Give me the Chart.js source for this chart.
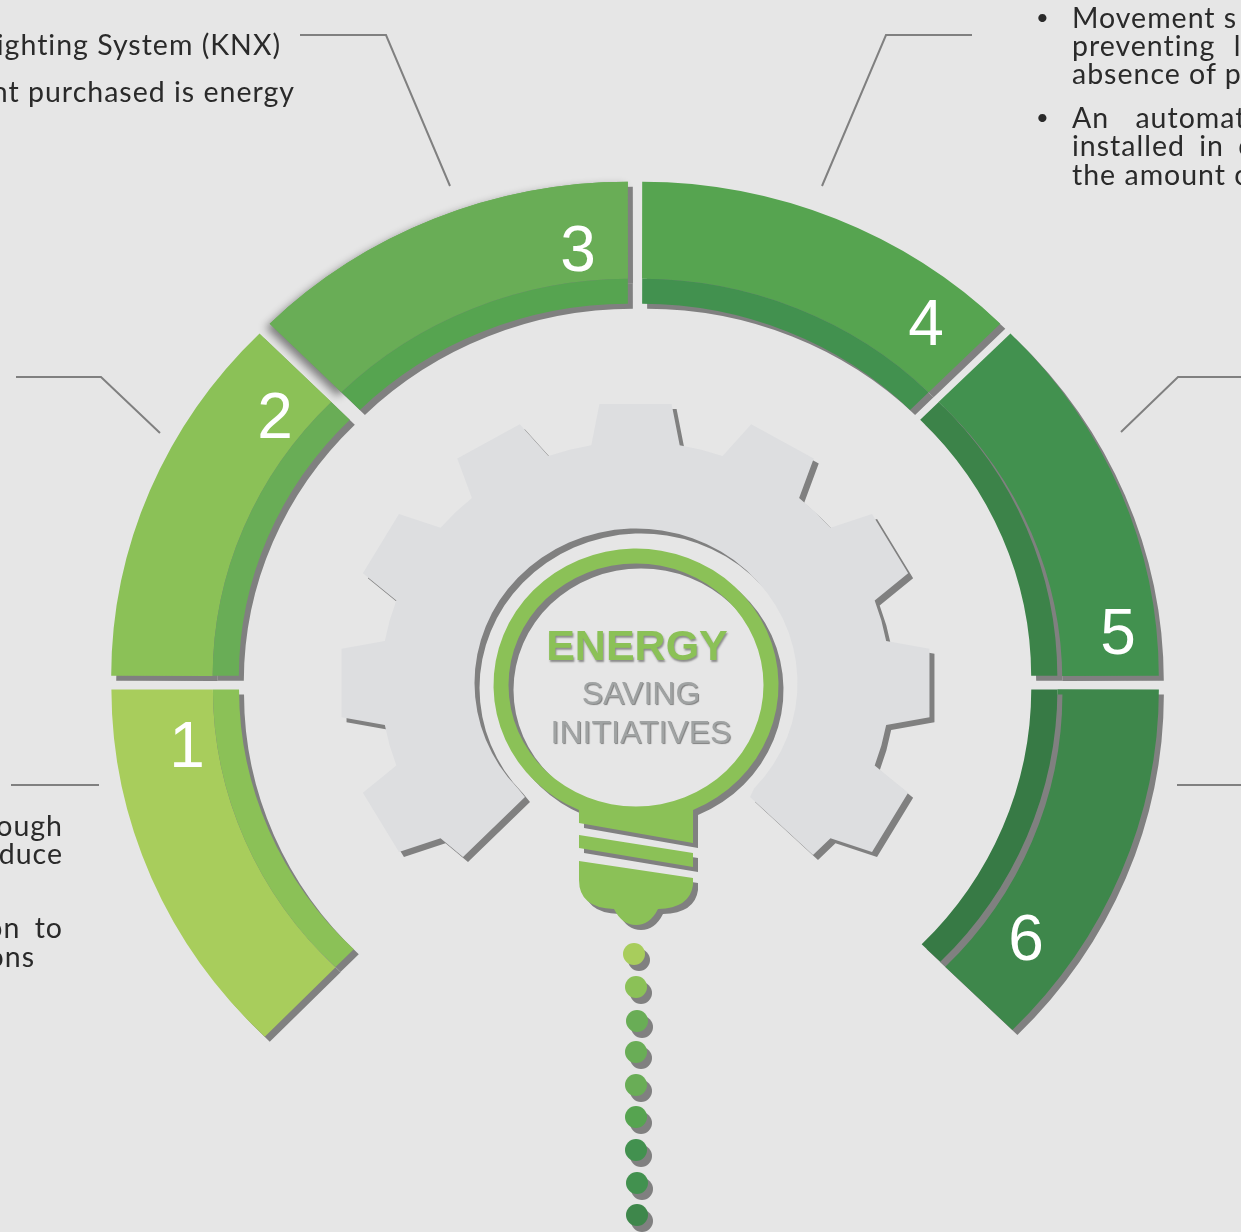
<!DOCTYPE html>
<html>
<head>
<meta charset="utf-8">
<title>Energy saving initiatives</title>
<script src="https://cdn.jsdelivr.net/npm/chart.js@4"></script>
<style>
  html, body { margin: 0; padding: 0; background: #e6e6e6; }
  #page { position: relative; width: 1241px; height: 1232px; overflow: hidden; background: #e6e6e6; }
  canvas { position: absolute; left: 0; top: 0; }
  .note { position: absolute; font: 400 28.5px/36px Lato, "Open Sans", sans-serif; letter-spacing: 1px; font-variant-ligatures: none; color: #2a2a2a; white-space: pre; }
  .r { text-align: right; }
  .dot { font-size: 22px; }
  .num { position: absolute; width: 80px; margin-left: -40px; text-align: center; font: 64px/72px "Liberation Sans", Arial, sans-serif; color: #fff; }
  .mid { position: absolute; left: 537px; width: 200px; text-align: center; font-family: "Liberation Sans", Arial, sans-serif; white-space: nowrap; }
</style>
</head>
<body>
<div id="page">
  <canvas id="gearChart" width="1241" height="1232"></canvas>
  <canvas id="ringChart" width="1241" height="1232"></canvas>

  <div class="note r" style="right:960px; top:26px">ighting System (KNX)</div>
  <div class="note r" style="right:946px; top:73px">nt purchased is energy</div>
  <div class="note r" style="right:1178px; top:807px">ough</div>
  <div class="note r" style="right:1178px; top:835px">duce</div>
  <div class="note r" style="right:1178px; top:909px; word-spacing:6px">on to</div>
  <div class="note r" style="right:1206px; top:938px">ons</div>

  <div class="note dot" style="left:1036px; top:-1px">•</div>
  <div class="note" style="left:1072px; top:-1px">Movement s</div>
  <div class="note" style="left:1072px; top:27px; word-spacing:10px">preventing l</div>
  <div class="note" style="left:1072px; top:55px">absence of p</div>
  <div class="note dot" style="left:1036px; top:99px">•</div>
  <div class="note" style="left:1072px; top:99px; word-spacing:18px">An automat</div>
  <div class="note" style="left:1072px; top:127px; word-spacing:6px">installed in c</div>
  <div class="note" style="left:1072px; top:156px">the amount c</div>

  <div class="num" style="left:187px; top:709px">1</div>
  <div class="num" style="left:275px; top:380px">2</div>
  <div class="num" style="left:578px; top:213px">3</div>
  <div class="num" style="left:926px; top:287px">4</div>
  <div class="num" style="left:1118px; top:596px">5</div>
  <div class="num" style="left:1026px; top:902px">6</div>

  <div class="mid" style="top:620px; font-size:43px; line-height:50px; font-weight:bold; color:#8bc157; text-shadow:1px 2px 2px rgba(0,0,0,.4)">ENERGY</div>
  <div class="mid" style="top:673px; left:541px; font-size:32px; line-height:40px; color:#a0a3a3; text-shadow:1px 1px 1px rgba(0,0,0,.45)">SAVING</div>
  <div class="mid" style="top:712px; left:541px; font-size:32px; line-height:40px; color:#a0a3a3; text-shadow:1px 1px 1px rgba(0,0,0,.45)">INITIATIVES</div>
</div>

<script>
// ring: six steps, outer band and darker inner band
const steps = ['1', '2', '3', '4', '5', '6'];
const stepValues = [45.8, 45, 45, 45, 45, 44.7];
const outerColors = ['#a8cd5c', '#8bc157', '#69ad56', '#56a450', '#42914f', '#3e874b'];
const innerColors = ['#8bc157', '#69ad56', '#56a450', '#42914f', '#3c8349', '#377a45'];

// dotted stem below the bulb
const dotX = [634, 636, 637, 636, 636, 636, 636, 637, 637];
const dotY = [954, 987, 1021, 1052, 1085, 1117, 1150, 1183, 1215];
const dotColors = ['#a8cd5c', '#8bc157', '#69ad56', '#69ad56', '#69ad56', '#56a450', '#42914f', '#42914f', '#3e874b'];

// leader lines
const leaderA = [{x: 300, y: 35}, {x: 386, y: 35}, {x: 450, y: 186}];
const leaderB = [{x: 16, y: 377}, {x: 101, y: 377}, {x: 160, y: 433}];
const leaderC = [{x: 972, y: 35}, {x: 886, y: 35}, {x: 822, y: 186}];
const leaderD = [{x: 1241, y: 377}, {x: 1178, y: 377}, {x: 1121, y: 432}];
const leaderE = [{x: 11, y: 785}, {x: 99, y: 785}];
const leaderF = [{x: 1177, y: 785}, {x: 1241, y: 785}];

const CX = 635, CY = 683, STRETCH = 1.046;
const SHADOW = '#808080';
const GEAR = '#dddee0', BULB = '#8bc157';

function setShadow(ctx, dx, dy) {
  ctx.shadowColor = SHADOW;
  ctx.shadowOffsetX = dx;
  ctx.shadowOffsetY = dy;
  ctx.shadowBlur = 0;
}

function clearShadow(ctx) {
  ctx.shadowColor = 'transparent';
}

// polar point on the gear, angle 0 = top
function polar(r, deg) {
  const a = deg * Math.PI / 180;
  return [635.5 + Math.sin(a) * r * 1.054, CY - Math.cos(a) * r];
}

function drawGear(ctx) {
  const tip = 281, root = 241.5;
  const teeth = [-120, -90, -60, -30, 0, 30, 60, 90, 120];
  ctx.beginPath();
  ctx.moveTo(463, 857);
  teeth.forEach((t, i) => {
    for (const [r, d] of [[root, -10], [tip, -7], [tip, 7], [root, 10]]) {
      const p = polar(r, t + d);
      ctx.lineTo(p[0], p[1]);
    }
    if (i < teeth.length - 1) {
      const m = polar(root, t + 15);
      ctx.lineTo(m[0], m[1]);
    }
  });
  ctx.lineTo(813, 855);
  ctx.lineTo(750, 797);
  // hole of the gear, back over the top
  ctx.ellipse(636, CY, 161.5, 154.5, 0, 0.75, Math.PI - 0.75, true);
  ctx.lineTo(525, 797);
  ctx.closePath();
  ctx.fillStyle = GEAR;
  setShadow(ctx, 5, 5);
  ctx.fill();
  clearShadow(ctx);
}

function drawBulb(ctx) {
  ctx.beginPath();
  // ring with neck
  ctx.ellipse(636, 685, 142.5, 136.5, 0, 1.159, Math.PI - 1.159, true);
  ctx.lineTo(579, 823);
  ctx.lineTo(693, 843);
  ctx.closePath();
  ctx.moveTo(636 + 127.5, 685);
  ctx.ellipse(636, 685, 127.5, 121.5, 0, 0, Math.PI * 2);
  ctx.closePath();
  // thread strip
  ctx.moveTo(579, 835);
  ctx.lineTo(693, 853);
  ctx.lineTo(693, 867);
  ctx.lineTo(579, 848);
  ctx.closePath();
  // cap
  ctx.moveTo(579, 861);
  ctx.lineTo(693, 878);
  ctx.lineTo(693, 885);
  ctx.quadraticCurveTo(690, 908, 658, 909);
  ctx.quadraticCurveTo(650, 925, 636, 925);
  ctx.quadraticCurveTo(622, 925, 614, 909);
  ctx.quadraticCurveTo(579, 908, 579, 880);
  ctx.closePath();
  ctx.fillStyle = BULB;
  setShadow(ctx, 5, 5);
  ctx.fill('evenodd');
  clearShadow(ctx);
}

const artworkPlugin = {
  id: 'artwork',
  beforeDatasetsDraw(chart) {
    drawGear(chart.ctx);
    drawBulb(chart.ctx);
  },
  beforeDatasetDraw(chart, args) {
    if (chart.data.datasets[args.index].label === 'stem') setShadow(chart.ctx, 5, 6);
  },
  afterDatasetDraw(chart) {
    clearShadow(chart.ctx);
  }
};

const stretchPlugin = {
  id: 'stretch',
  beforeDatasetsDraw(chart) {
    const ctx = chart.ctx;
    ctx.save();
    ctx.translate(CX, 0);
    ctx.scale(STRETCH, 1);
    ctx.translate(-CX, 0);
    // soft shadow that only step 3 has
    ctx.shadowColor = 'rgba(0,0,0,.45)';
    ctx.shadowOffsetX = -4;
    ctx.shadowOffsetY = 4;
    ctx.shadowBlur = 8;
    chart.getDatasetMeta(0).data[2].draw(ctx);
    setShadow(ctx, 5, 5);
  },
  afterDatasetsDraw(chart) {
    chart.ctx.restore();
  }
};

function leader(points) {
  return { type: 'scatter', data: points, showLine: true, borderColor: '#808080', borderWidth: 2, pointRadius: 0, fill: false };
}

new Chart(document.getElementById('gearChart'), {
  type: 'scatter',
  data: {
    datasets: [
      leader(leaderA), leader(leaderB), leader(leaderC), leader(leaderD), leader(leaderE), leader(leaderF),
      {
        label: 'stem',
        data: dotX.map((x, i) => ({ x: x, y: dotY[i] })),
        pointRadius: 11,
        pointBorderWidth: 0,
        pointBackgroundColor: dotColors,
        showLine: false
      }
    ]
  },
  options: {
    responsive: false,
    animation: false,
    layout: { padding: 0, autoPadding: false },
    scales: {
      x: { display: false, min: 0, max: 1241 },
      y: { display: false, min: 0, max: 1232, reverse: true }
    },
    plugins: { legend: { display: false }, tooltip: { enabled: false } }
  },
  plugins: [artworkPlugin]
});

new Chart(document.getElementById('ringChart'), {
  type: 'doughnut',
  data: {
    labels: steps,
    datasets: [
      { data: stepValues, backgroundColor: outerColors, weight: 97, order: 2, clip: false },
      { data: stepValues, backgroundColor: innerColors, weight: 25, order: 1, clip: false }
    ]
  },
  options: {
    responsive: false,
    animation: false,
    rotation: -135.8,
    circumference: 270.5,
    radius: 481.3,
    cutout: '74.65%',
    offset: 64,
    borderWidth: 0,
    layout: { padding: { left: 29, bottom: 3 } },
    plugins: { legend: { display: false }, tooltip: { enabled: false } }
  },
  plugins: [stretchPlugin]
});
</script>
</body>
</html>
